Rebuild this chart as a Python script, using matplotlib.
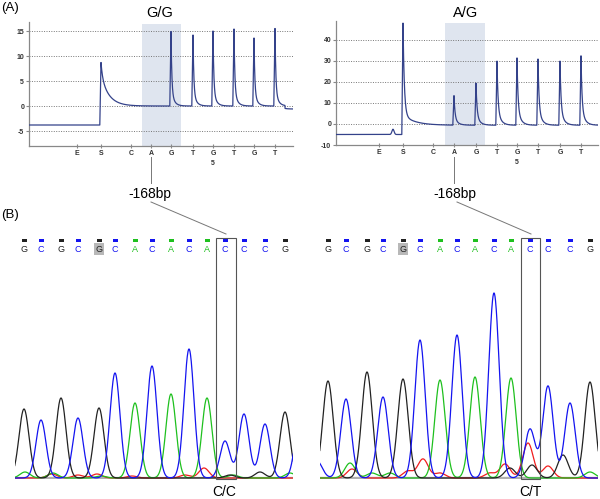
import numpy as np
import matplotlib
matplotlib.use('Agg')
import matplotlib.pyplot as plt
from matplotlib.patches import Rectangle

plt.rcParams['font.family'] = ['Liberation Sans', 'DejaVu Sans']

# ---- pyrograms (A) ----
disp = ['E', 'S', 'C', 'A', 'G', 'T', 'G', 'T', 'G', 'T']
# G/G sample: dispensation positions (px from y-axis) and peak heights
gg_x = [48, 72, 102, 122, 142, 164, 184, 205, 225, 246]
gg_h = [0, 8.7, 0, 0, 14.9, 14.2, 15.0, 15.4, 13.6, 15.5]
gg_base = [-3.8, 0.0, -0.6]      # before S, between, after last
# A/G sample
ag_x = [43, 67, 97, 118, 140, 161, 181, 202, 224, 245]
ag_h = [0, 48, 0, 14, 20, 30.5, 32, 31.5, 30.5, 33]
ag_base = [-5.0, -0.6, -0.6]
ag_bump = (57, 2.5)

# ---- chromatograms (B) ----
seq = list('GCGCGCACACACCCG')
cc_x = [9, 26, 46, 63, 84, 100, 120, 137, 156, 174, 192, 210, 229, 250, 270]
cc_h = [69, 58, 80, 60, 70, 105, 75, 112, 84, 129, 80, 37, 64, 54, 66]
cc_bg = [('C', 285, 60), ('A', 10, 6), ('T', 37, 4), ('A', 38, 5), ('T', 63, 3),
         ('T', 82, 4), ('A', 86, 2), ('T', 117, 2), ('T', 170, 3), ('T', 189, 10),
         ('G', 215, 3), ('A', 218, 3), ('G', 245, 6), ('A', 275, 5)]
ct_x = [8, 26, 47, 63, 83, 100, 120, 137, 155, 174, 191, 210, 228, 250, 270]
ct_h = [97, 79, 106, 81, 99, 138, 98, 143, 101, 185, 100, 49, 92, 75, 96]
ct_bg = [('C', -3, 17), ('A', 30, 15), ('T', 32, 9), ('A', 52, 5), ('A', 70, 5),
         ('T', 88, 7), ('T', 103, 19), ('T', 120, 5), ('T', 170, 5), ('T', 185, 14),
         ('G', 190, 10), ('T', 208, 35), ('G', 212, 13), ('T', 228, 12),
         ('G', 243, 23), ('A', 270, 6)]

colors = {'G': '#222222', 'C': '#1414f0', 'A': '#1ec01e', 'T': '#f01e1e'}

fig = plt.figure(figsize=(6, 4.99), dpi=100)


def px_axes(x0, y0, x1, y1):
    return fig.add_axes([x0 / 600, 1 - y1 / 499, (x1 - x0) / 600, (y1 - y0) / 499])


def spike(x, p, lo, h, end, decay, rise_w=1.2):
    # sharp rise from lo to h, decay toward end
    d = x - p
    out = np.zeros_like(x)
    r = (d > -rise_w) & (d < 0)
    out[r] = (h - lo) * (1 + d[r] / rise_w)
    a1, t1, a2, t2 = decay
    f = d >= 0
    out[f] = (h - end) * (a1 * np.exp(-d[f] / t1) + a2 * np.exp(-d[f] / t2)) + (end - lo)
    return out


def pyro_trace(xs, hs, base, s_decay, tail, extra=None):
    x = np.arange(0, 270, 0.1)
    s = xs[1]
    last = xs[-1] + 10
    y = np.where(x < s, base[0], np.where(x < last, base[1], base[2])).astype(float)
    # S (substrate) peak: jump from pre-baseline to peak, decay to new baseline
    y += np.where(x < s, spike(x, s, base[0], hs[1], base[1], s_decay), 0)
    d = x - s
    a1, t1, a2, t2 = s_decay
    post = d >= 0
    y[post] += (hs[1] - base[1]) * (a1 * np.exp(-d[post] / t1) + a2 * np.exp(-d[post] / t2))
    for p, h in zip(xs[2:], hs[2:]):
        if h == 0:
            continue
        y += spike(x, p, 0, h, 0, tail)
    if extra is not None:
        p, h = extra
        y += h * np.exp(-((x - p) / 1.5) ** 2)
    return x, y


def draw_pyro(box, xs, hs, base, s_decay, ylim, yticks, shade, extra=None, tail=(0.8, 0.8, 0.2, 3.0)):
    ax = px_axes(*box)
    x, y = pyro_trace(xs, hs, base, s_decay, tail, extra)
    ax.axvspan(shade[0], shade[1], ymin=0, ymax=0.985, color='#dfe5ef', lw=0, zorder=0)
    for t in yticks:
        if t > ylim[0]:
            ax.axhline(t, color='#777777', lw=0.7, ls=(0, (1, 1.5)), zorder=1)
    ax.plot(x, y, color='#34428a', lw=0.9, zorder=3)
    ax.set_xlim(0, box[2] - box[0])
    ax.set_ylim(*ylim)
    ax.set_yticks(yticks)
    ax.set_yticklabels([str(t) for t in yticks], fontsize=5, fontweight='bold', color='#333333')
    ax.set_xticks(xs)
    ax.set_xticklabels(disp, fontsize=5, fontweight='bold', color='#333333')
    ax.tick_params(axis='x', length=3, direction='inout', color='#888888', pad=1.5)
    ax.tick_params(axis='y', length=2, color='#888888', pad=1.5)
    for sp in ['top', 'right']:
        ax.spines[sp].set_visible(False)
    for sp in ['left', 'bottom']:
        ax.spines[sp].set_color('#888888')
        ax.spines[sp].set_linewidth(0.9)
    ax.text(xs[6], -0.14, '5', transform=ax.get_xaxis_transform(), fontsize=5,
            fontweight='bold', color='#333333', ha='center', va='center')
    ax.patch.set_alpha(0)
    return ax


draw_pyro((29, 22, 293, 146), gg_x, gg_h, gg_base, (0.3, 1.5, 0.7, 8.0),
          (-8, 16.8), [-5, 0, 5, 10, 15], (113, 152))
draw_pyro((336, 21, 598, 145), ag_x, ag_h, ag_base, (0.9, 1.3, 0.1, 12.0),
          (-10, 49), [-10, 0, 10, 20, 30, 40], (109, 149), extra=ag_bump,
          tail=(0.75, 1.0, 0.25, 3.5))


def draw_chroma(box, xs, hs, bg, sigma, base_lw, box_x):
    ax = px_axes(*box)
    w = box[2] - box[0]
    x = np.arange(-10, w + 10, 0.25)
    ax.axhline(0, color='#b0b0b0', lw=base_lw, zorder=1)
    traces = {b: np.zeros_like(x) for b in 'GCAT'}
    for b, p, h in zip(seq, xs, hs):
        traces[b] += h * np.exp(-0.5 * ((x - p) / sigma) ** 2)
    for b, p, h in bg:
        traces[b] += h * np.exp(-0.5 * ((x - p) / sigma) ** 2)
    for b in 'TAGC':
        ax.plot(x, traces[b], color=colors[b], lw=0.9, zorder=2)
    # base calls
    for i, (b, p) in enumerate(zip(seq, xs)):
        ax.add_patch(Rectangle((p - 2.5, 236), 5, 3, color=colors[b], lw=0, clip_on=False))
        kw = {}
        if i == 4:
            kw['bbox'] = dict(boxstyle='square,pad=0.15', fc='#b8b8b8', ec='none')
        ax.text(p, 229, b, color=colors[b], fontsize=6.5, ha='center', va='center', **kw)
    ax.add_patch(Rectangle((box_x[0], -1), box_x[1] - box_x[0], 241, fill=False,
                           ec='#555555', lw=0.8, clip_on=False, zorder=4))
    ax.set_xlim(0, w)
    ax.set_ylim(-1, box[3] - box[1] - 1)
    ax.axis('off')
    return ax


draw_chroma((15, 232, 293, 479), cc_x, cc_h, cc_bg, 5.0, 1.6, (201, 221))
draw_chroma((320, 232, 598, 479), ct_x, ct_h, ct_bg, 5.2, 2.4, (201, 220))

# ---- annotation layer ----
ov = fig.add_axes([0, 0, 1, 1])
ov.set_xlim(0, 600)
ov.set_ylim(499, 0)
ov.axis('off')
ov.text(1, 8, '(A)', fontsize=9.5, va='center', ha='left')
ov.text(1, 215, '(B)', fontsize=9.5, va='center', ha='left')
ov.text(160, 13, 'G/G', fontsize=10.5, ha='center', va='center')
ov.text(466, 13, 'A/G', fontsize=10.5, ha='center', va='center')
ov.text(150, 194, '-168bp', fontsize=10, ha='center', va='center')
ov.text(455, 194, '-168bp', fontsize=10, ha='center', va='center')
ov.text(224, 492, 'C/C', fontsize=10, ha='center', va='center')
ov.text(530, 492, 'C/T', fontsize=10, ha='center', va='center')
lk = dict(color='#777777', lw=0.7)
ov.plot([151, 151], [157, 183], **lk)
ov.plot([454, 454], [157, 183], **lk)
ov.plot([151, 226], [202, 234], **lk)
ov.plot([457, 531], [202, 234], **lk)

fig.savefig('out.png', dpi=100)
